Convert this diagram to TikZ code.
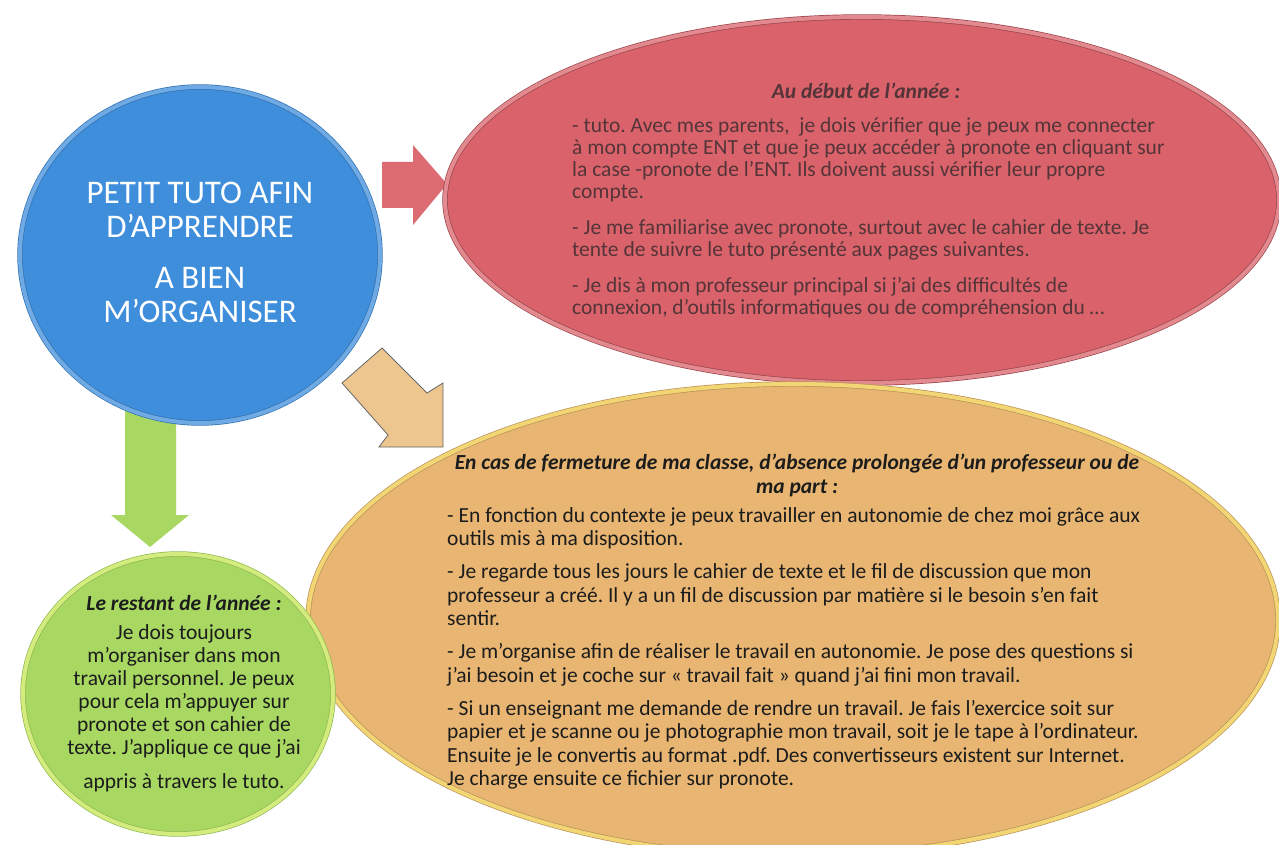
\documentclass[tikz,border=0pt]{standalone}
\usepackage{fontspec}
\setmainfont{Carlito}
\usetikzlibrary{shapes.geometric}

\definecolor{bleu}{RGB}{63,142,220}
\definecolor{rouge}{RGB}{218,99,107}
\definecolor{orange}{RGB}{232,182,114}
\definecolor{vert}{RGB}{168,216,98}
\definecolor{texterouge}{RGB}{84,52,56}
\definecolor{textenoir}{RGB}{28,28,28}

\begin{document}
\frenchspacing
\begin{tikzpicture}[x=1pt, y=-1pt,
    bulle/.style={ellipse, inner sep=0pt, line width=0.7pt, double distance=4pt},
    titre/.style={font=\bfseries\itshape\fontsize{21.5}{24}\selectfont, align=center, inner sep=0pt},
    corps/.style={align=left, inner sep=0pt, anchor=north west}]
    \useasboundingbox (0,0) rectangle (1279,845);
    % fleches
    \fill[vert] (125,400) -- (176,400) -- (176,515) -- (189,515) -- (150,547) -- (111,515) -- (125,515) -- cycle;
    \fill[rouge!95!white] (382,162) -- (413,162) -- (413,145) -- (447,184) -- (413,225) -- (413,208) -- (382,208) -- cycle;
    \filldraw[fill=orange!80!white, draw=black!60, line width=0.8pt] (382,348) -- (427,393) -- (443,383) -- (443,447) -- (379,447) -- (388,435) -- (342,383) -- cycle;
    % bulles
    \node[bulle, fill=bleu, draw=bleu!80!black, double=bleu!75!white, minimum width=360pt, minimum height=336pt] (tuto) at (200,255) {};
    \node[bulle, fill=rouge, draw=rouge!70!black, double=rouge!75!white, minimum width=834pt, minimum height=366pt] (debut) at (862,200) {};
    \node[bulle, fill=orange, draw=orange!80!black, double=orange!70!yellow!80!white, minimum width=970pt, minimum height=472pt] (fermeture) at (793,620) {};
    \node[bulle, fill=vert, draw=vert!85!black, double=vert!70!yellow!70!white, minimum width=310pt, minimum height=280pt] (restant) at (178,694) {};
    % textes
    \node[align=center, text=white, font=\fontsize{33}{34}\selectfont] (tutotxt) at (200,252) {PETIT TUTO AFIN\\D’APPRENDRE\\[17pt]A BIEN\\M’ORGANISER};
    \node[titre, text=texterouge] (debuttitre) at (866,91) {Au début de l’année :};
    \node[corps, text=texterouge, font=\fontsize{21.5}{22}\selectfont] (debuttxt) at (572,117) {- tuto. Avec mes parents,\ \ je dois vérifier que je peux me connecter\\à mon compte ENT et que je peux accéder à pronote en cliquant sur\\la case -pronote de l’ENT. Ils doivent aussi vérifier leur propre\\compte.\\[14pt]- Je me familiarise avec pronote, surtout avec le cahier de texte. Je\\tente de suivre le tuto présenté aux pages suivantes.\\[14pt]- Je dis à mon professeur principal si j’ai des difficultés de\\connexion, d’outils informatiques ou de compréhension du …};
    \node[titre, text=textenoir] (fermeturetitre) at (797,475) {En cas de fermeture de ma classe, d’absence prolongée d’un professeur ou de\\ma part :};
    \node[corps, text=textenoir, font=\fontsize{21.5}{23.5}\selectfont] (fermeturetxt) at (447,507) {- En fonction du contexte je peux travailler en autonomie de chez moi grâce aux\\outils mis à ma disposition.\\[9.5pt]- Je regarde tous les jours le cahier de texte et le fil de discussion que mon\\professeur a créé. Il y a un fil de discussion par matière si le besoin s’en fait\\sentir.\\[9.5pt]- Je m’organise afin de réaliser le travail en autonomie. Je pose des questions si\\j’ai besoin et je coche sur « travail fait » quand j’ai fini mon travail.\\[9.5pt]- Si un enseignant me demande de rendre un travail. Je fais l’exercice soit sur\\papier et je scanne ou je photographie mon travail, soit je le tape à l’ordinateur.\\Ensuite je le convertis au format .pdf. Des convertisseurs existent sur Internet.\\Je charge ensuite ce fichier sur pronote.};
    \node[align=center, text=textenoir, font=\fontsize{21.5}{23}\selectfont] (restanttxt) at (184,693) {{\bfseries\itshape Le restant de l’année :}\\[6pt]Je dois toujours\\m’organiser dans mon\\travail personnel. Je peux\\pour cela m’appuyer sur\\pronote et son cahier de\\texte. J’applique ce que j’ai\\[11pt]appris à travers le tuto.};
\end{tikzpicture}
\end{document}
